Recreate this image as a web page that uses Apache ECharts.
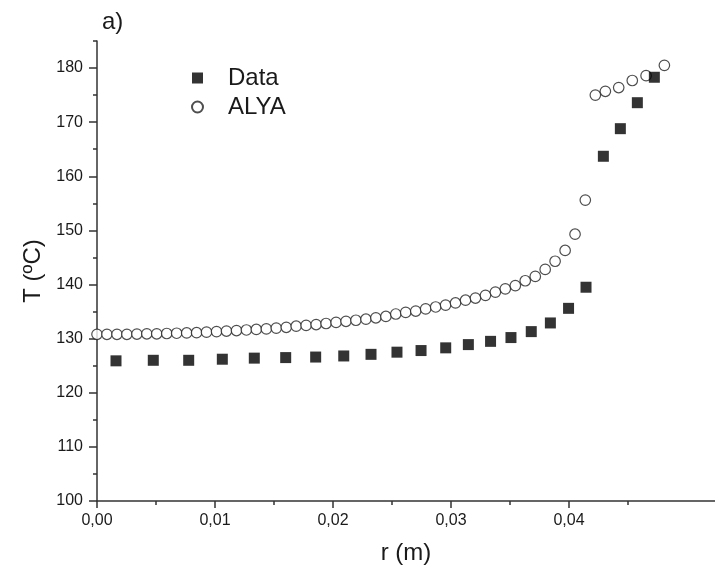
<!DOCTYPE html>
<html>
<head>
<meta charset="utf-8">
<script src="https://cdn.jsdelivr.net/npm/echarts@6/dist/echarts.min.js"></script>
<style>html,body{margin:0;padding:0;background:#fff}#c{width:715px;height:578px}</style>
</head>
<body>
<div id="c"></div>
<script>
// ---- data ----
const dataR = [0.00161, 0.00477, 0.00777, 0.01062, 0.01333, 0.01599, 0.01853, 0.02091, 0.02322, 0.02542,
  0.02746, 0.02955, 0.03147, 0.03335, 0.03508, 0.03680, 0.03842, 0.03996, 0.04144, 0.04291,
  0.04435, 0.04579, 0.04723];
const dataT = [125.9, 126.0, 126.0, 126.2, 126.4, 126.5, 126.6, 126.8, 127.1, 127.5,
  127.8, 128.3, 128.9, 129.5, 130.2, 131.3, 132.9, 135.6, 139.5, 163.7,
  168.8, 173.6, 178.3];
const alyaR = [0, 0.00084, 0.00169, 0.00253, 0.00338, 0.00422, 0.00506, 0.00591, 0.00675, 0.0076,
  0.00844, 0.00928, 0.01013, 0.01097, 0.01182, 0.01266, 0.0135, 0.01435, 0.01519, 0.01604,
  0.01688, 0.01772, 0.01857, 0.01941, 0.02026, 0.0211, 0.02194, 0.02279, 0.02363, 0.02448,
  0.02532, 0.02616, 0.02701, 0.02785, 0.0287, 0.02954, 0.03038, 0.03123, 0.03207, 0.03292,
  0.03376, 0.0346, 0.03545, 0.03629, 0.03714, 0.03798, 0.03882, 0.03967, 0.04051, 0.04138,
  0.04223, 0.04308, 0.04421, 0.04536, 0.04653, 0.04808];
const alyaT = [130.8, 130.8, 130.8, 130.8, 130.85, 130.9, 130.9, 130.95, 131.0, 131.05,
  131.1, 131.2, 131.3, 131.4, 131.5, 131.6, 131.7, 131.8, 131.95, 132.1,
  132.3, 132.45, 132.6, 132.8, 133.0, 133.2, 133.4, 133.6, 133.85, 134.1,
  134.55, 134.85, 135.1, 135.5, 135.85, 136.2, 136.6, 137.1, 137.5, 138.0,
  138.6, 139.2, 139.8, 140.7, 141.5, 142.8, 144.3, 146.3, 149.3, 155.6,
  175.0, 175.7, 176.4, 177.7, 178.6, 180.5];
const xMajorTicks = [0, 0.01, 0.02, 0.03, 0.04];
const xMinorTicks = [0.005, 0.015, 0.025, 0.035, 0.045];
const xTickLabels = ['0,00', '0,01', '0,02', '0,03', '0,04'];
const yMajorTicks = [100, 110, 120, 130, 140, 150, 160, 170, 180];
const yMinorTicks = [105, 115, 125, 135, 145, 155, 165, 175, 185];
const yTickLabels = ['100', '110', '120', '130', '140', '150', '160', '170', '180'];

// ---- chart ----
const FONT = 'Liberation Sans, Arial, sans-serif';
const AX = '#333';
const TXT = '#1a1a1a';
const chart = echarts.init(document.getElementById('c'), null, {renderer: 'canvas'});
const xRange = {min: 0, max: 0.05237};
const yRange = {min: 100, max: 185};
function xFmt(v) {
  const i = xMajorTicks.findIndex(t => Math.abs(t - v) < 1e-9);
  return i >= 0 ? xTickLabels[i] : '';
}
function yFmt(v) {
  const i = yMajorTicks.findIndex(t => Math.abs(t - v) < 1e-9);
  return i >= 0 ? yTickLabels[i] : '';
}
chart.setOption({
  backgroundColor: '#fff',
  animation: false,
  textStyle: {fontFamily: FONT},
  title: {text: 'a)', left: 97, top: 5, textStyle: {fontFamily: FONT, fontSize: 24, fontWeight: 'normal', color: TXT}},
  legend: {
    orient: 'vertical', left: 186, top: 61, itemGap: 5,
    itemWidth: 11, itemHeight: 11,
    data: ['Data', 'ALYA'],
    textStyle: {fontFamily: FONT, fontSize: 24, color: TXT, padding: [0, 0, 0, 20]}
  },
  grid: {left: 97, right: 0, top: 41, bottom: 77, containLabel: false},
  xAxis: [{
    type: 'value', min: xRange.min, max: xRange.max,
    name: 'r (m)', nameLocation: 'middle', nameGap: 40,
    nameTextStyle: {fontFamily: FONT, fontSize: 24, color: TXT},
    axisLine: {show: true, lineStyle: {color: AX, width: 1.5}},
    axisTick: {show: true, length: 7, lineStyle: {color: AX, width: 1.5}, customValues: xMajorTicks},
    axisLabel: {show: true, fontFamily: FONT, fontSize: 16, color: TXT, margin: 12, customValues: xMajorTicks, formatter: xFmt},
    splitLine: {show: false}
  }, {
    type: 'value', min: xRange.min, max: xRange.max, position: 'bottom',
    axisLine: {show: false},
    axisTick: {show: true, length: 4, lineStyle: {color: AX, width: 1.5}, customValues: xMinorTicks},
    axisLabel: {show: false},
    splitLine: {show: false}
  }],
  yAxis: [{
    type: 'value', min: yRange.min, max: yRange.max,
    name: 'T (ºC)', nameLocation: 'middle', nameGap: 52, nameRotate: 90,
    nameTextStyle: {fontFamily: FONT, fontSize: 24, color: TXT},
    axisLine: {show: true, lineStyle: {color: AX, width: 1.5}},
    axisTick: {show: true, length: 8, lineStyle: {color: AX, width: 1.5}, customValues: yMajorTicks},
    axisLabel: {show: true, fontFamily: FONT, fontSize: 16, color: TXT, margin: 14, customValues: yMajorTicks, formatter: yFmt},
    splitLine: {show: false}
  }, {
    type: 'value', min: yRange.min, max: yRange.max, position: 'left',
    axisLine: {show: false},
    axisTick: {show: true, length: 4, lineStyle: {color: AX, width: 1.5}, customValues: yMinorTicks},
    axisLabel: {show: false},
    splitLine: {show: false}
  }],
  series: [{
    name: 'ALYA', type: 'scatter', symbol: 'circle', symbolSize: 10.5,
    itemStyle: {color: '#fff', borderColor: '#222', borderWidth: 1.2},
    data: alyaR.map((r, i) => [r, alyaT[i]]), z: 2
  }, {
    name: 'Data', type: 'scatter', symbol: 'rect', symbolSize: 11,
    itemStyle: {color: '#000'},
    data: dataR.map((r, i) => [r, dataT[i]]), z: 3
  }]
});
</script>
</body>
</html>
